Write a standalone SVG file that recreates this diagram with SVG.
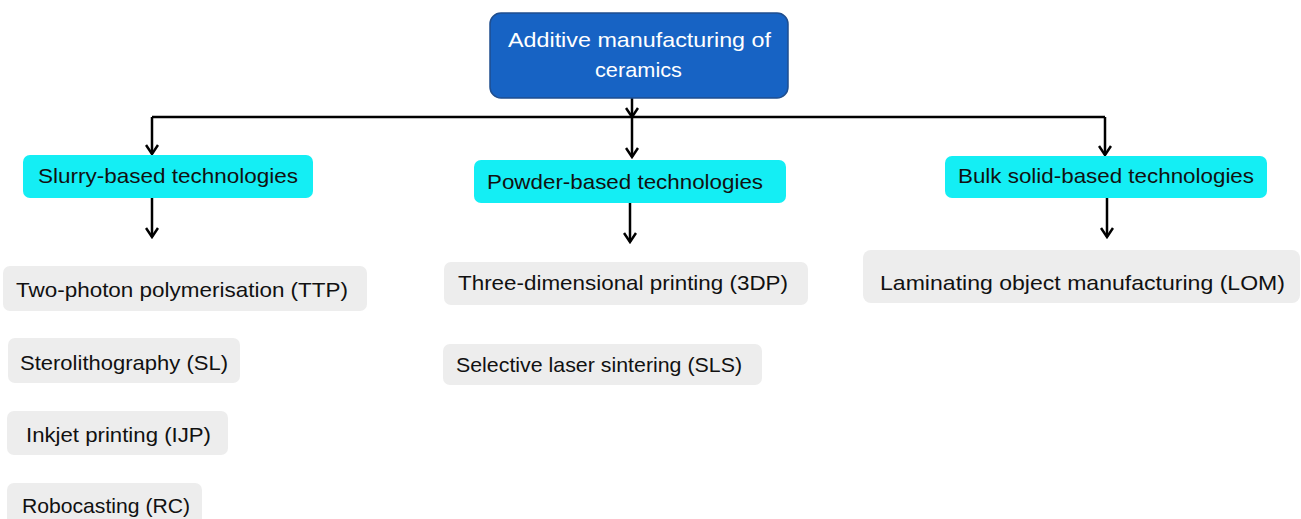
<svg xmlns="http://www.w3.org/2000/svg" width="1301" height="519" viewBox="0 0 1301 519">
<style>
.t{font-family:"Liberation Sans",Arial,sans-serif;font-size:21px;fill:#111}
.w{fill:#fff}
.root{fill:#1763C4;stroke:#1F4E8F;stroke-width:1.5}
.cat{fill:#14EEF4}
.leaf{fill:#EDEDED}
.c{fill:none;stroke:#000;stroke-width:2.5}
</style>
<defs>
<marker id="ah" markerUnits="userSpaceOnUse" markerWidth="12" markerHeight="14" refX="10" refY="7" orient="auto" viewBox="0 0 12 14">
<path d="M1,1 L10,7 L1,13" fill="none" stroke="#000" stroke-width="2.5"/>
</marker>
</defs>
<g id="connectors">
<path class="c" d="M152,117 H1105"/>
<path class="c" d="M632,98 V117" marker-end="url(#ah)"/>
<path class="c" d="M632,117 V157" marker-end="url(#ah)"/>
<path class="c" d="M152,117 V154" marker-end="url(#ah)"/>
<path class="c" d="M1105,117 V155" marker-end="url(#ah)"/>
<path class="c" d="M152,198 V237" marker-end="url(#ah)"/>
<path class="c" d="M630,203 V242" marker-end="url(#ah)"/>
<path class="c" d="M1107,198 V237" marker-end="url(#ah)"/>
</g>
<g id="root">
<rect class="root" x="490" y="13" width="298" height="85" rx="11"/>
<text class="t w" x="639.5" y="47" text-anchor="middle" textLength="263" lengthAdjust="spacingAndGlyphs">Additive manufacturing of</text>
<text class="t w" x="638.5" y="77" text-anchor="middle" textLength="87" lengthAdjust="spacingAndGlyphs">ceramics</text>
</g>
<g id="slurry">
<rect class="cat" x="23" y="155" width="290" height="43" rx="7"/>
<text class="t" x="38" y="183" textLength="260" lengthAdjust="spacingAndGlyphs">Slurry-based technologies</text>
</g>
<g id="powder">
<rect class="cat" x="474" y="160" width="312" height="43" rx="7"/>
<text class="t" x="487" y="189" textLength="276" lengthAdjust="spacingAndGlyphs">Powder-based technologies</text>
</g>
<g id="bulk">
<rect class="cat" x="945" y="156" width="322" height="42" rx="7"/>
<text class="t" x="958" y="183" textLength="296" lengthAdjust="spacingAndGlyphs">Bulk solid-based technologies</text>
</g>
<g id="ttp">
<rect class="leaf" x="3" y="266" width="364" height="45" rx="7"/>
<text class="t" x="16" y="297" textLength="332" lengthAdjust="spacingAndGlyphs">Two-photon polymerisation (TTP)</text>
</g>
<g id="sl">
<rect class="leaf" x="8" y="338" width="232" height="45" rx="7"/>
<text class="t" x="20" y="370" textLength="208" lengthAdjust="spacingAndGlyphs">Sterolithography (SL)</text>
</g>
<g id="ijp">
<rect class="leaf" x="7" y="411" width="221" height="44" rx="7"/>
<text class="t" x="26" y="442" textLength="185" lengthAdjust="spacingAndGlyphs">Inkjet printing (IJP)</text>
</g>
<g id="rc">
<rect class="leaf" x="7" y="483" width="195" height="44" rx="7"/>
<text class="t" x="22" y="513" textLength="168" lengthAdjust="spacingAndGlyphs">Robocasting (RC)</text>
</g>
<g id="tdp">
<rect class="leaf" x="444" y="262" width="364" height="43" rx="7"/>
<text class="t" x="458" y="290" textLength="330" lengthAdjust="spacingAndGlyphs">Three-dimensional printing (3DP)</text>
</g>
<g id="sls">
<rect class="leaf" x="443" y="344" width="319" height="41" rx="7"/>
<text class="t" x="456" y="372" textLength="286" lengthAdjust="spacingAndGlyphs">Selective laser sintering (SLS)</text>
</g>
<g id="lom">
<rect class="leaf" x="863" y="250" width="437" height="53" rx="8"/>
<text class="t" x="880" y="290" textLength="405" lengthAdjust="spacingAndGlyphs">Laminating object manufacturing  (LOM)</text>
</g>
</svg>
